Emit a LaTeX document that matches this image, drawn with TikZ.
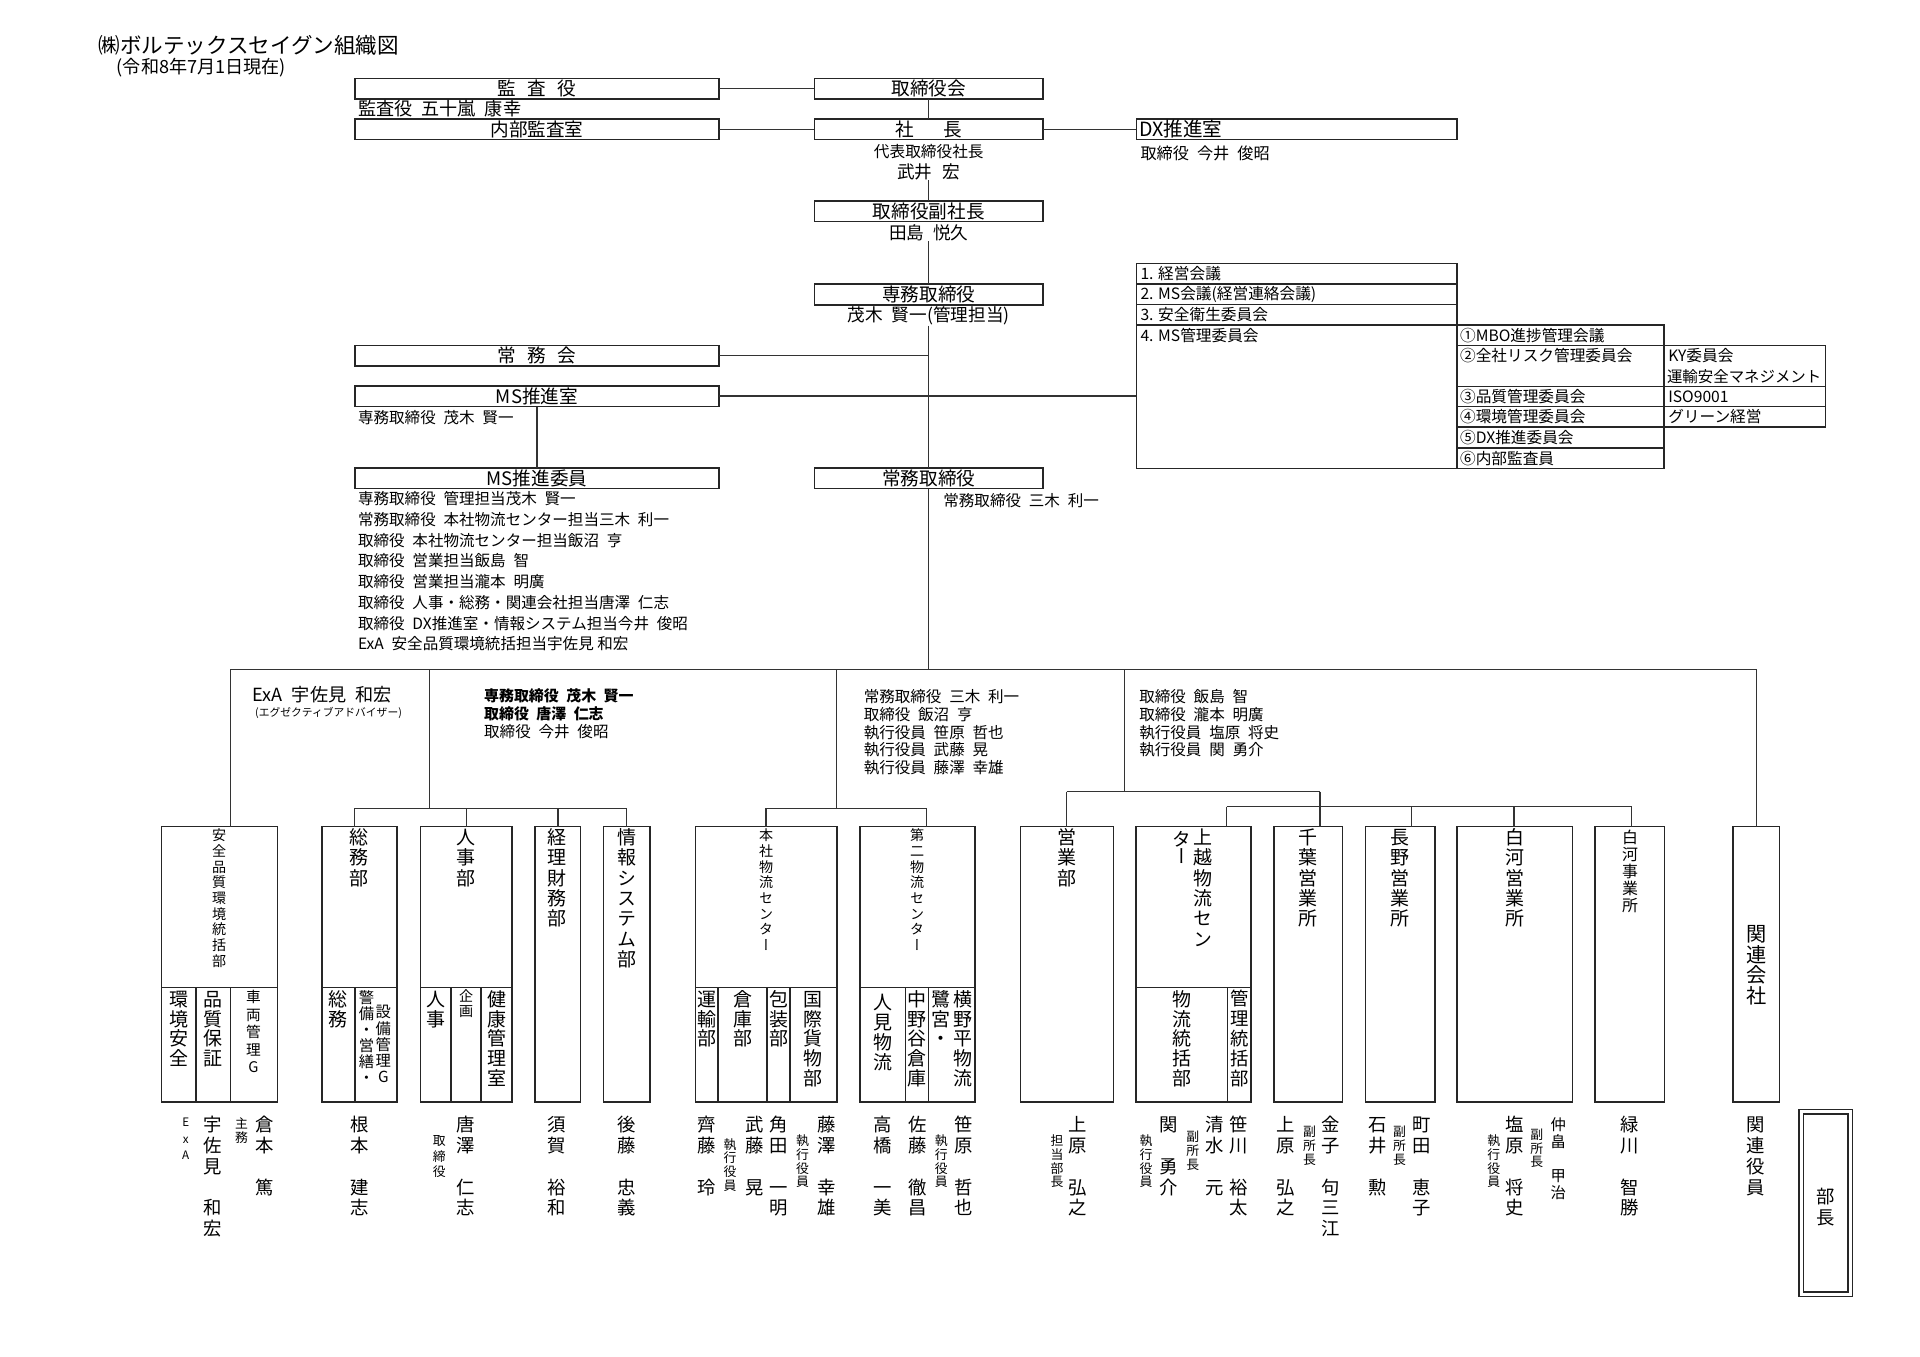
\documentclass[tikz,border=0pt]{standalone}
\usepackage{fontspec}
\setmainfont{Noto Sans CJK JP}
\newfontfamily\tatefont{Noto Sans CJK JP}[RawFeature=+vert]

% vertical (tategaki) stacking: #1 = pitch, #2 = characters
\ExplSyntaxOn
\NewDocumentCommand \tate { m m }
  {
    \vbox
      {
        \offinterlineskip
        \tl_map_inline:nn {#2}
          {
            \hbox_to_wd:nn { 1em }
              { \hss \vrule ~ width ~ 0pt ~ height ~ .88em ~ depth ~ .12em \relax ##1 \hss }
            \skip_vertical:n { #1 - 1em }
          }
      }
  }
\ExplSyntaxOff

\newcommand\jsp{\hspace{0.5em}}

\tikzset{
  box/.style={draw=black!85, line width=0.65pt, inner sep=0pt, outer sep=0pt, rectangle,
              font=\fontsize{7.6}{8}\selectfont},
  cell/.style={draw=black!85, line width=0.55pt, inner sep=0pt, outer sep=0pt, rectangle},
  wire/.style={draw=black!80, line width=0.55pt},
  tx/.style={inner sep=0pt, font=\fontsize{6.35}{7}\selectfont},
  hd/.style={inner sep=0pt, font=\fontsize{7.2}{8}\selectfont},
  ctx/.style={inner sep=0pt, anchor=west, font=\fontsize{6.4}{7}\selectfont},
  vt/.style={font=\tatefont, inner sep=0pt, anchor=north},
}

% box from corner (x1,y1) to (x2,y2): [opts]{name}{x1}{y1}{x2}{y2}{text}
\newcommand\obox[7][]{\node[box,minimum width={(#5-#3)*0.5pt},minimum height={(#6-#4)*0.5pt},#1] (#2) at ({(#3+#5)/2},{(#4+#6)/2}) {#7};}
% vertical text: [opts]{name}{x}{centre of first char}{font pt}{pitch pt}{text}
\newcommand\tatenode[7][]{\node[vt,#1] (#2) at (#3,{#4-#5}) {\fontsize{#5pt}{#5pt}\selectfont\tate{#6pt}{#7}};}

\begin{document}
\begin{tikzpicture}[x=0.5pt,y=-0.5pt]
\path[use as bounding box, fill=white] (0,0) rectangle (1568,1108);

% ---------- heading ----------
\node[inner sep=0pt, anchor=west, font=\fontsize{8.8}{10}\selectfont] (title) at (80,37) {㈱ボルテックスセイグン組織図};
\node[inner sep=0pt, anchor=west, font=\fontsize{7.4}{8}\selectfont] (date) at (95,55) {(令和8年7月1日現在)};

% ---------- top management ----------
\obox{kansayaku}{290}{64}{587}{81}{監\hspace{.6em}査\hspace{.6em}役}
\obox{torikai}{665}{64}{852}{81}{取締役会}
\node[hd, anchor=west, font=\fontsize{7.4}{8}\selectfont] (kansaname) at (292,89) {監査役\jsp 五十嵐\jsp 康幸};
\obox{naibu}{290}{97}{587}{114}{内部監査室}
\obox{shacho}{665}{97}{852}{114}{社\hspace{1.6em}長}
\obox{dx}{928}{97}{1190}{114}{}
\node[inner sep=0pt, anchor=west, font=\fontsize{8}{9}\selectfont] (dxt) at (930,105.5) {DX推進室};
\node[tx, anchor=west, font=\fontsize{6.6}{7}\selectfont] (dxname) at (931,125) {取締役\jsp 今井\jsp 俊昭};
\node[tx, font=\fontsize{6.4}{7}\selectfont] (daihyo) at (758.5,124) {代表取締役社長};
\node[hd] (takei) at (758.5,140) {武井\hspace{.6em}宏};
\obox{fuku}{665}{164}{852}{181}{取締役副社長}
\node[hd] (tajima) at (758.5,190) {田島\jsp 悦久};
\obox{senmu}{665}{232}{852}{249}{専務取締役}
\node[hd] (mogi) at (758.5,258) {茂木\jsp 賢一(管理担当)};

\obox{jomukai}{290}{282}{587}{299}{常\hspace{.6em}務\hspace{.6em}会}
\obox{mssuishin}{290}{315}{587}{332}{MS推進室}
\node[tx, anchor=west] (mssname) at (292,341) {専務取締役\jsp 茂木\jsp 賢一};
\obox{msiin}{290}{382}{587}{399}{MS推進委員}
\node[tx, anchor=west] (m1) at (292,407.5) {専務取締役\jsp 管理担当茂木\jsp 賢一};
\node[tx, anchor=west] (m2) at (292,424.4) {常務取締役\jsp 本社物流センター担当三木\jsp 利一};
\node[tx, anchor=west] (m3) at (292,441.3) {取締役\jsp 本社物流センター担当飯沼\jsp 亨};
\node[tx, anchor=west] (m4) at (292,458.2) {取締役\jsp 営業担当飯島\jsp 智};
\node[tx, anchor=west] (m5) at (292,475.1) {取締役\jsp 営業担当瀧本\jsp 明廣};
\node[tx, anchor=west] (m6) at (292,492) {取締役\jsp 人事・総務・関連会社担当唐澤\jsp 仁志};
\node[tx, anchor=west] (m7) at (292,508.9) {取締役\jsp DX推進室・情報システム担当今井\jsp 俊昭};
\node[tx, anchor=west] (m8) at (292,525.8) {ExA\jsp 安全品質環境統括担当宇佐見 和宏};
\obox{jomutori}{665}{382}{852}{399}{常務取締役}
\node[tx, anchor=west] (mikiname) at (770,409) {常務取締役\jsp 三木\jsp 利一};

% ---------- meetings and committees ----------
\obox[cell]{c1}{928}{215}{1190}{232}{}
\obox[cell]{c2}{928}{232}{1190}{248.5}{}
\obox[cell]{c3}{928}{248.5}{1190}{265.5}{}
\obox[cell]{c4}{928}{265.5}{1190}{382.5}{}
\obox[cell]{s1}{1190}{265.5}{1359}{282.3}{}
\obox[cell]{s2}{1190}{282.3}{1359}{315.8}{}
\obox[cell]{s3}{1190}{315.8}{1359}{332}{}
\obox[cell]{s4}{1190}{332}{1359}{348.6}{}
\obox[cell]{s5}{1190}{348.6}{1359}{366}{}
\obox[cell]{s6}{1190}{366}{1359}{382.5}{}
\obox[cell]{t2}{1359}{282.3}{1491}{315.8}{}
\obox[cell]{t3}{1359}{315.8}{1491}{332}{}
\obox[cell]{t4}{1359}{332}{1491}{348.6}{}
\node[ctx] (c1t) at (931,223.5) {1. 経営会議};
\node[ctx] (c2t) at (931,240.2) {2. MS会議(経営連絡会議)};
\node[ctx] (c3t) at (931,257) {3. 安全衛生委員会};
\node[ctx] (c4t) at (931,273.8) {4. MS管理委員会};
\node[ctx] (s1t) at (1192,273.8) {①MBO進捗管理会議};
\node[ctx] (s2t) at (1192,290.6) {②全社リスク管理委員会};
\node[ctx] (s3t) at (1192,323.9) {③品質管理委員会};
\node[ctx] (s4t) at (1192,340.3) {④環境管理委員会};
\node[ctx] (s5t) at (1192,357.3) {⑤DX推進委員会};
\node[ctx] (s6t) at (1192,374.2) {⑥内部監査員};
\node[ctx] (t2a) at (1362,290.6) {KY委員会};
\node[ctx, font=\fontsize{6.3}{7}\selectfont] (t2b) at (1361,307.6) {運輸安全マネジメント};
\node[ctx] (t3t) at (1362,323.9) {ISO9001};
\node[ctx] (t4t) at (1362,340.3) {グリーン経営};

% ---------- top connectors ----------
\draw[wire] (kansayaku.east) -- (torikai.west);
\draw[wire] (naibu.east) -- (shacho.west);
\draw[wire] (shacho.east) -- (dx.west);
\draw[wire] (torikai.south) -- (shacho.north);
\draw[wire] (takei.south) -- (fuku.north);
\draw[wire] (tajima.south) -- (senmu.north);
\draw[wire] (mogi.south) -- (jomutori.north);
\draw[wire] (jomukai.east) -- (jomukai.east -| jomutori.north);
\draw[wire] (mssuishin.east) -- (mssuishin.east -| c4.west);
\draw[wire] (mssuishin.south) -- (msiin.north);

% ---------- officers over each division group ----------
\node[inner sep=0pt, anchor=west, font=\fontsize{7.4}{8}\selectfont] (exa) at (206,567) {ExA\jsp 宇佐見\jsp 和宏};
\node[inner sep=0pt, anchor=west, font=\fontsize{4.4}{5}\selectfont] (exasub) at (208,582) {(エグゼクティブアドバイザー)};
\node[tx, anchor=west, font=\bfseries\fontsize{6.1}{7}\selectfont] (g2o1) at (395,568.5) {専務取締役\jsp 茂木\jsp 賢一};
\node[tx, anchor=west, font=\bfseries\fontsize{6.1}{7}\selectfont] (g2o2) at (395,583) {取締役\jsp 唐澤\jsp 仁志};
\node[tx, anchor=west] (g2o3) at (395,597.5) {取締役\jsp 今井\jsp 俊昭};
\node[tx, anchor=west] (g3o1) at (705,569) {常務取締役\jsp 三木\jsp 利一};
\node[tx, anchor=west] (g3o2) at (705,583.5) {取締役\jsp 飯沼\jsp 亨};
\node[tx, anchor=west] (g3o3) at (705,598) {執行役員\jsp 笹原\jsp 哲也};
\node[tx, anchor=west] (g3o4) at (705,612.5) {執行役員\jsp 武藤\jsp 晃};
\node[tx, anchor=west] (g3o5) at (705,627) {執行役員\jsp 藤澤\jsp 幸雄};
\node[tx, anchor=west] (g4o1) at (930,569) {取締役\jsp 飯島\jsp 智};
\node[tx, anchor=west] (g4o2) at (930,583.5) {取締役\jsp 瀧本\jsp 明廣};
\node[tx, anchor=west] (g4o3) at (930,598) {執行役員\jsp 塩原\jsp 将史};
\node[tx, anchor=west] (g4o4) at (930,612.5) {執行役員\jsp 関\jsp 勇介};

% ---------- divisions ----------
\obox{anzenT}{132}{675}{226.5}{806.6}{}
\obox{anzen1}{132}{806.6}{160}{900}{}
\obox{anzen2}{160}{806.6}{188.4}{900}{}
\obox{anzen3}{188.4}{806.6}{226.5}{900}{}
\obox{soumuT}{263.2}{675}{324}{806.6}{}
\obox{soumu1}{263.2}{806.6}{290}{900}{}
\obox{soumu2}{290}{806.6}{324}{900}{}
\obox{jinjiT}{343.5}{675}{418}{806.6}{}
\obox{jinji1}{343.5}{806.6}{368.3}{900}{}
\obox{jinji2}{368.3}{806.6}{392.8}{900}{}
\obox{jinji3}{392.8}{806.6}{418}{900}{}
\obox{keiri}{437}{675}{474.2}{900}{}
\obox{joho}{492.7}{675}{530.8}{900}{}
\obox{honshaT}{568.1}{675}{683.3}{806.6}{}
\obox{h1}{568.1}{806.6}{586.6}{900}{}
\obox{h2}{586.6}{806.6}{626.6}{900}{}
\obox{h3}{626.6}{806.6}{645.2}{900}{}
\obox{h4}{645.2}{806.6}{683.3}{900}{}
\obox{dainiT}{702.3}{675}{796.2}{806.6}{}
\obox{d1}{702.3}{806.6}{739.6}{900}{}
\obox{d2}{739.6}{806.6}{758.1}{900}{}
\obox{d3}{758.1}{806.6}{796.2}{900}{}
\obox{eigyo}{833.5}{675}{909.2}{900}{}
\obox{joetsuT}{927.5}{675}{1021.4}{806.6}{}
\obox{j1}{927.5}{806.6}{1002.6}{900}{}
\obox{j2}{1002.6}{806.6}{1021.4}{900}{}
\obox{chiba}{1040.4}{675}{1096.5}{900}{}
\obox{nagano}{1115.3}{675}{1172}{900}{}
\obox{shirakawa}{1190}{675}{1284.3}{900}{}
\obox{shirajigyo}{1302.8}{675}{1359.2}{900}{}
\obox{kanren}{1415.5}{675}{1453.1}{900}{}
\node[draw=black!85, double, double distance=1.3pt, line width=0.55pt, inner sep=0pt,
      minimum width=20pt, minimum height=74.5pt] (buchobox) at (1491,982.5) {};

% division titles
\tatenode{anzenTt}{179}{682}{5.75}{6.4}{安全品質環境統括部}
\tatenode{anzen1t}{146.5}{815.3}{7.75}{8.15}{環境安全}
\tatenode{anzen2t}{174.2}{815.3}{7.75}{8.15}{品質保証}
\tatenode{anzen3t}{206.9}{814}{6}{7.15}{車両管理G}
\tatenode{soumuTt}{293.5}{683.3}{7.75}{8.3}{総務部}
\tatenode{soumu1t}{276.3}{815.3}{7.75}{8.15}{総務}
\tatenode{soumu2a}{299.4}{814}{6.25}{6.55}{警備・営繕・}
\tatenode{soumu2b}{313.1}{826.2}{6.25}{6.55}{設備管理G}
\tatenode{jinjiTt}{380.6}{683.3}{7.75}{8.3}{人事部}
\tatenode{jinji1t}{355.8}{815.3}{7.75}{8.15}{人事}
\tatenode{jinji2t}{380.6}{813.5}{5.75}{6.1}{企画}
\tatenode{jinji3t}{405.6}{815.3}{7.75}{8.15}{健康管理室}
\tatenode{keirit}{455.1}{683.3}{7.75}{8.3}{経理財務部}
\tatenode{johot}{511.8}{683.3}{7.75}{8.3}{情報システム部}
\tatenode{honshaTt}{625.6}{682}{5.75}{6.4}{本社物流センター}
\tatenode{h1t}{577.6}{815.3}{7.75}{8.15}{運輸部}
\tatenode{h2t}{606.5}{815.3}{7.75}{8.15}{倉庫部}
\tatenode{h3t}{636.2}{815.3}{7.75}{8.15}{包装部}
\tatenode{h4t}{664.2}{815.3}{7.75}{8.15}{国際貨物部}
\tatenode{dainiTt}{749.1}{682}{5.75}{6.4}{第二物流センター}
\tatenode{d1t}{721.4}{818}{7.75}{8.15}{人見物流}
\tatenode{d2t}{749.1}{815.3}{7.75}{8.15}{中野谷倉庫}
\tatenode{d3a}{768.2}{815.3}{7.75}{8.15}{鷺宮・}
\tatenode{d3b}{786.7}{815.3}{7.75}{8.15}{横野平物流}
\tatenode{eigyot}{871.1}{683.3}{7.75}{8.3}{営業部}
\tatenode{joetsuTa}{982.7}{683.3}{7.75}{8.3}{上越物流セン}
\tatenode{joetsuTb}{965}{685}{7.75}{7}{ター}
\tatenode{j1t}{965}{815.3}{7.75}{8.15}{物流統括部}
\tatenode{j2t}{1012.1}{815.3}{7.5}{8.15}{管理統括部}
\tatenode{chibat}{1068.5}{683.3}{7.75}{8.3}{千葉営業所}
\tatenode{naganot}{1143.3}{683.3}{7.75}{8.3}{長野営業所}
\tatenode{shirat}{1237.2}{683.3}{7.75}{8.3}{白河営業所}
\tatenode{shirajt}{1331.2}{683.3}{6.5}{6.95}{白河事業所}
\tatenode{kanrent}{1434.6}{762.2}{8.25}{8.4}{関連会社}

% names of managers
\tatenode{nExA}{151.7}{916}{4.75}{6.75}{ExA}
\tatenode{nUsami}{173.5}{918}{7.5}{8.5}{宇佐見　和宏}
\tatenode{nShumu}{197.2}{917}{5.25}{6}{主務}
\tatenode{nKuramoto}{216.4}{918}{7.5}{8.5}{倉本　篤}
\tatenode{nNemoto}{293.8}{918}{7.5}{8.5}{根本　建志}
\tatenode{nTori}{358.7}{931}{5.25}{6.4}{取締役}
\tatenode{nKarasawa}{380.6}{918}{7.5}{8.5}{唐澤　仁志}
\tatenode{nSuga}{455}{918}{7.5}{8.5}{須賀　裕和}
\tatenode{nGoto}{511.9}{918}{7.5}{8.5}{後藤　忠義}
\tatenode{nSaito}{577.4}{918}{7.5}{8.5}{齊藤　玲}
\tatenode{nShikko1}{596.3}{934}{5.25}{5.65}{執行役員}
\tatenode{nMuto}{616.6}{918}{7.5}{8.5}{武藤　晃}
\tatenode{nTsunoda}{635.8}{918}{7.5}{8.5}{角田　一明}
\tatenode{nShikko2}{655.5}{931}{5.25}{5.65}{執行役員}
\tatenode{nFujisawa}{674.8}{918}{7.5}{8.5}{藤澤　幸雄}
\tatenode{nTakahashi}{721}{918}{7.5}{8.5}{高橋　一美}
\tatenode{nSato}{749.1}{918}{7.5}{8.5}{佐藤　徹昌}
\tatenode{nShikko3}{768.8}{931}{5.25}{5.65}{執行役員}
\tatenode{nSasahara}{786.6}{918}{7.5}{8.5}{笹原　哲也}
\tatenode{nTanto}{863.2}{931}{5.25}{5.65}{担当部長}
\tatenode{nUehara1}{880.4}{918}{7.5}{8.5}{上原　弘之}
\tatenode{nShikko4}{936}{931}{5.25}{5.65}{執行役員}
\tatenode{nSeki}{954.7}{918}{7.5}{8.5}{関　勇介}
\tatenode{nFuku1}{974.1}{928}{5.25}{5.65}{副所長}
\tatenode{nShimizu}{992.2}{918}{7.5}{8.5}{清水　元}
\tatenode{nSasakawa}{1011.6}{918}{7.5}{8.5}{笹川　裕太}
\tatenode{nUehara2}{1050}{918}{7.5}{8.5}{上原　弘之}
\tatenode{nFuku2}{1069.5}{924}{5.25}{5.65}{副所長}
\tatenode{nKaneko}{1087}{918}{7.5}{8.5}{金子　句三江}
\tatenode{nIshii}{1125}{918}{7.5}{8.5}{石井　勲}
\tatenode{nFuku3}{1143}{924}{5.25}{5.65}{副所長}
\tatenode{nMachida}{1161}{918}{7.5}{8.5}{町田　恵子}
\tatenode{nShikko5}{1220}{931}{5.25}{5.65}{執行役員}
\tatenode{nShiohara}{1237}{918}{7.5}{8.5}{塩原　将史}
\tatenode{nFuku4}{1255}{926}{5.25}{5.65}{副所長}
\tatenode{nNakahata}{1272.5}{918}{6.25}{7}{仲畠　甲治}
\tatenode{nMidorikawa}{1331}{918}{7.5}{8.5}{緑川　智勝}
\tatenode{nKanrenY}{1433.5}{918}{7.5}{8.5}{関連役員}
\tatenode{nBucho}{1491}{977}{7.5}{8.5}{部長}

% ---------- lower connectors ----------
\coordinate (busL) at (188.4,547);
\coordinate (busR) at (1434.3,547);
\draw[wire] (jomutori.south) -- (jomutori.south |- busL);
\draw[wire] (anzenT.north -| busL) -- (busL) -- (busR) -- (kanren.north -| busR);

\coordinate (g2top) at (351,547);
\coordinate (g2mid) at (351,660.5);
\coordinate (g2a) at (289.4,660.5);
\coordinate (g2d) at (511.8,660.5);
\draw[wire] (g2top) -- (g2mid);
\draw[wire] (g2a) -- (g2d);
\draw[wire] (g2a) -- (soumuT.north -| g2a);
\draw[wire] (jinjiT.north |- g2a) -- (jinjiT.north);
\draw[wire] (keiri.north |- g2a) -- (keiri.north);
\draw[wire] (joho.north |- g2a) -- (joho.north);

\coordinate (g3top) at (683.3,547);
\coordinate (g3mid) at (683.3,660.2);
\coordinate (g3a) at (625.6,660.2);
\coordinate (g3b) at (756.8,660.2);
\draw[wire] (g3top) -- (g3mid);
\draw[wire] (g3a) -- (g3b);
\draw[wire] (g3a) -- (honshaT.north -| g3a);
\draw[wire] (g3b) -- (dainiT.north -| g3b);

\coordinate (g4top) at (918.5,547);
\coordinate (g4mid) at (918.5,646.5);
\coordinate (g4a) at (871.1,646.5);
\coordinate (g4b) at (1078,646.5);
\draw[wire] (g4top) -- (g4mid);
\draw[wire] (g4a) -- (g4b);
\draw[wire] (g4a) -- (eigyo.north -| g4a);
\draw[wire] (g4b) -- (chiba.north -| g4b);

\coordinate (g5a) at (1001.8,658.8);
\coordinate (g5n) at (1152.8,658.8);
\coordinate (g5s) at (1236.4,658.8);
\coordinate (g5b) at (1332.5,658.8);
\draw[wire] (g5a) -- (g5b);
\draw[wire] (g5a) -- (joetsuT.north -| g5a);
\draw[wire] (g5n) -- (nagano.north -| g5n);
\draw[wire] (g5s) -- (shirakawa.north -| g5s);
\draw[wire] (g5b) -- (shirajigyo.north -| g5b);

\end{tikzpicture}
\end{document}
